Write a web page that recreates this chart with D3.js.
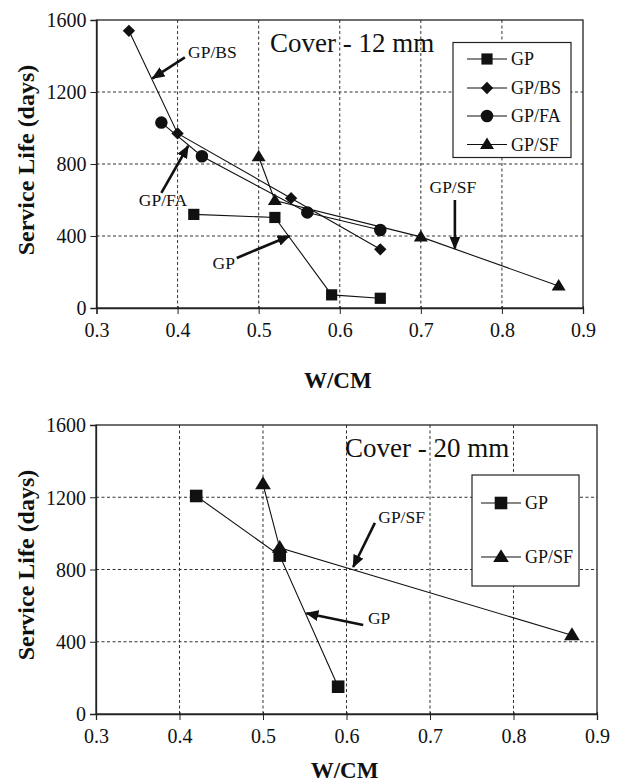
<!DOCTYPE html>
<html>
<head>
<meta charset="utf-8">
<script src="https://cdn.jsdelivr.net/npm/d3@7"></script>
<style>
  html, body { margin: 0; padding: 0; background: #fff; }
  svg text { font-family: "Liberation Serif", "Times New Roman", serif; fill: #111; }
</style>
</head>
<body>
<svg id="chart" width="624" height="784"></svg>
<script>
// ---------- DATA ----------
const xTicks = [0.3, 0.4, 0.5, 0.6, 0.7, 0.8, 0.9];
const yTicks = [0, 400, 800, 1200, 1600];
const xTickLabels = ["0.3", "0.4", "0.5", "0.6", "0.7", "0.8", "0.9"];
const yTickLabels = ["0", "400", "800", "1200", "1600"];

// Cover 12 mm
const gp12 = [[0.42, 520], [0.52, 503], [0.59, 73], [0.65, 54]];
const bs12 = [[0.34, 1540], [0.40, 970], [0.54, 610], [0.65, 326]];
const fa12 = [[0.38, 1030], [0.43, 843], [0.56, 531], [0.65, 433]];
const sf12 = [[0.50, 840], [0.52, 597], [0.70, 395], [0.87, 122]];

// Cover 20 mm
const gp20 = [[0.42, 1207], [0.52, 877], [0.59, 151]];
const sf20 = [[0.50, 1272], [0.52, 920], [0.87, 436]];

// annotations: label, label position (data), arrow start, arrow head (data)
const notes12 = [
  { t: "GP/BS", lx: 0.413, ly: 1422, x1: 0.409, y1: 1392, x2: 0.369, y2: 1276, anchor: "start" },
  { t: "GP/FA", lx: 0.382, ly: 600, x1: 0.380, y1: 640, x2: 0.413, y2: 900, anchor: "middle" },
  { t: "GP", lx: 0.457, ly: 250, x1: 0.473, y1: 278, x2: 0.538, y2: 400, anchor: "middle" },
  { t: "GP/SF", lx: 0.7395, ly: 672, x1: 0.742, y1: 600, x2: 0.742, y2: 330, anchor: "middle" }
];
const notes20 = [
  { t: "GP/SF", lx: 0.666, ly: 1091, x1: 0.634, y1: 1058, x2: 0.608, y2: 814, anchor: "middle" },
  { t: "GP", lx: 0.639, ly: 532, x1: 0.620, y1: 493, x2: 0.552, y2: 558, anchor: "middle" }
];

const legend12 = ["GP", "GP/BS", "GP/FA", "GP/SF"];
const legend20 = ["GP", "GP/SF"];

// ---------- DRAWING ----------
const FONT = "Liberation Serif, Times New Roman, serif";
const svg = d3.select("#chart");

const defs = svg.append("defs");
defs.append("marker")
  .attr("id", "arrowhead")
  .attr("viewBox", "0 0 12 10")
  .attr("refX", 11).attr("refY", 5)
  .attr("markerUnits", "userSpaceOnUse")
  .attr("markerWidth", 13).attr("markerHeight", 11)
  .attr("orient", "auto")
  .append("path").attr("d", "M0,0 L12,5 L0,10 Z").attr("fill", "#111");

function markerPath(shape, s) {
  if (shape === "square") return `M${-s},${-s}H${s}V${s}H${-s}Z`;
  if (shape === "diamond") return `M0,${-s * 1.1}L${s * 1.1},0L0,${s * 1.1}L${-s * 1.1},0Z`;
  if (shape === "circle") return d3.arc()({ innerRadius: 0, outerRadius: s * 1.12, startAngle: 0, endAngle: 2 * Math.PI });
  if (shape === "triangle") return `M0,${-s * 1.25}L${s * 1.25},${s * 0.8}L${-s * 1.25},${s * 0.8}Z`;
}

function drawChart(cfg) {
  const g = svg.append("g").attr("font-family", FONT);
  const x = d3.scaleLinear().domain([0.3, 0.9]).range([cfg.left, cfg.right]);
  const y = d3.scaleLinear().domain([0, 1600]).range([cfg.bottom, cfg.top]);

  // grid
  g.append("g").selectAll("line").data(xTicks.slice(1, -1)).join("line")
    .attr("x1", d => x(d)).attr("x2", d => x(d))
    .attr("y1", cfg.top).attr("y2", cfg.bottom)
    .attr("stroke", "#333").attr("stroke-width", 1).attr("stroke-dasharray", "3,2.5");
  g.append("g").selectAll("line").data(yTicks.slice(1, -1)).join("line")
    .attr("y1", d => y(d)).attr("y2", d => y(d))
    .attr("x1", cfg.left).attr("x2", cfg.right)
    .attr("stroke", "#333").attr("stroke-width", 1).attr("stroke-dasharray", "3,2.5");

  // frame
  g.append("rect").attr("x", cfg.left).attr("y", cfg.top)
    .attr("width", cfg.right - cfg.left).attr("height", cfg.bottom - cfg.top)
    .attr("fill", "none").attr("stroke", "#222").attr("stroke-width", 1.3);

  // axes
  const xAxis = d3.axisBottom(x).tickValues(xTicks).tickFormat((d, i) => xTickLabels[i])
    .tickSize(6).tickPadding(9);
  const xa = g.append("g").attr("transform", `translate(0,${cfg.bottom})`).call(xAxis)
    .attr("font-family", FONT).attr("font-size", 20);
  xa.select(".domain").attr("stroke", "#222").attr("stroke-width", 1.3);
  xa.selectAll(".tick line").attr("stroke", "#222").attr("y1", -2);
  xa.selectAll("text").attr("fill", "#111");

  const yAxis = d3.axisLeft(y).tickValues(yTicks).tickFormat((d, i) => yTickLabels[i])
    .tickSize(6).tickPadding(4);
  const ya = g.append("g").attr("transform", `translate(${cfg.left},0)`).call(yAxis)
    .attr("font-family", FONT).attr("font-size", 20);
  ya.select(".domain").attr("stroke", "#222").attr("stroke-width", 1.3);
  ya.selectAll(".tick line").attr("stroke", "#222");
  ya.selectAll("text").attr("fill", "#111").attr("dy", "0.34em");

  // axis titles
  g.append("text").attr("x", (cfg.left + cfg.right) / 2 - 2).attr("y", cfg.xTitleY)
    .attr("text-anchor", "middle").attr("font-size", 23).attr("font-weight", "bold").text("W/CM");
  g.append("text")
    .attr("transform", `translate(${cfg.yTitleX},${cfg.yTitleCY}) rotate(-90)`)
    .attr("text-anchor", "middle").attr("font-size", 24).attr("font-weight", "bold")
    .text("Service Life (days)");

  // cover label
  g.append("text").attr("x", cfg.coverX).attr("y", cfg.coverY)
    .attr("font-size", 27).text(cfg.coverText);

  // series
  const line = d3.line().x(d => x(d[0])).y(d => y(d[1]));
  cfg.series.forEach(s => {
    g.append("path").datum(s.data).attr("d", line)
      .attr("fill", "none").attr("stroke", "#111").attr("stroke-width", 1.1);
  });
  cfg.series.forEach(s => {
    g.append("g").selectAll("path").data(s.data).join("path")
      .attr("transform", d => `translate(${x(d[0])},${y(d[1])})`)
      .attr("d", markerPath(s.shape, cfg.ms))
      .attr("fill", "#111");
  });

  // annotations
  cfg.notes.forEach(n => {
    g.append("line")
      .attr("x1", x(n.x1)).attr("y1", y(n.y1)).attr("x2", x(n.x2)).attr("y2", y(n.y2))
      .attr("stroke", "#111").attr("stroke-width", 2.6).attr("marker-end", "url(#arrowhead)");
    g.append("text").attr("x", x(n.lx)).attr("y", y(n.ly)).attr("dy", "0.35em")
      .attr("text-anchor", n.anchor).attr("font-size", 17.5).text(n.t);
  });

  // legend
  const L = cfg.legend;
  g.append("rect").attr("x", L.x).attr("y", L.y).attr("width", L.w).attr("height", L.h)
    .attr("fill", "#fff").attr("stroke", "#222").attr("stroke-width", 1.2);
  L.items.forEach((name, i) => {
    const s = cfg.series.find(d => d.name === name);
    const ry = L.rows[i];
    g.append("line").attr("x1", L.lx1).attr("x2", L.lx2).attr("y1", ry).attr("y2", ry)
      .attr("stroke", "#111").attr("stroke-width", 1.1);
    g.append("path").attr("transform", `translate(${(L.lx1 + L.lx2) / 2},${ry})`)
      .attr("d", markerPath(s.shape, cfg.ms)).attr("fill", "#111");
    g.append("text").attr("x", L.tx).attr("y", ry).attr("dy", "0.35em")
      .attr("font-size", 18).text(name);
  });
}

drawChart({
  left: 96.5, right: 583, top: 20, bottom: 308,
  xTitleY: 388, yTitleX: 34, yTitleCY: 160,
  coverText: "Cover - 12 mm", coverX: 270, coverY: 52,
  ms: 5.6,
  series: [
    { name: "GP", data: gp12, shape: "square" },
    { name: "GP/BS", data: bs12, shape: "diamond" },
    { name: "GP/FA", data: fa12, shape: "circle" },
    { name: "GP/SF", data: sf12, shape: "triangle" }
  ],
  notes: notes12,
  legend: { x: 453, y: 42.5, w: 118, h: 115, lx1: 467, lx2: 507, tx: 511,
            rows: [59, 88, 116, 144.5], items: legend12 }
});

drawChart({
  left: 96, right: 597, top: 425, bottom: 714,
  xTitleY: 778, yTitleX: 34, yTitleCY: 565,
  coverText: "Cover - 20 mm", coverX: 345, coverY: 457,
  ms: 6.3,
  series: [
    { name: "GP", data: gp20, shape: "square" },
    { name: "GP/SF", data: sf20, shape: "triangle" }
  ],
  notes: notes20,
  legend: { x: 472, y: 475, w: 107, h: 111, lx1: 481, lx2: 521, tx: 525,
            rows: [503, 557], items: legend20 }
});
</script>
</body>
</html>
